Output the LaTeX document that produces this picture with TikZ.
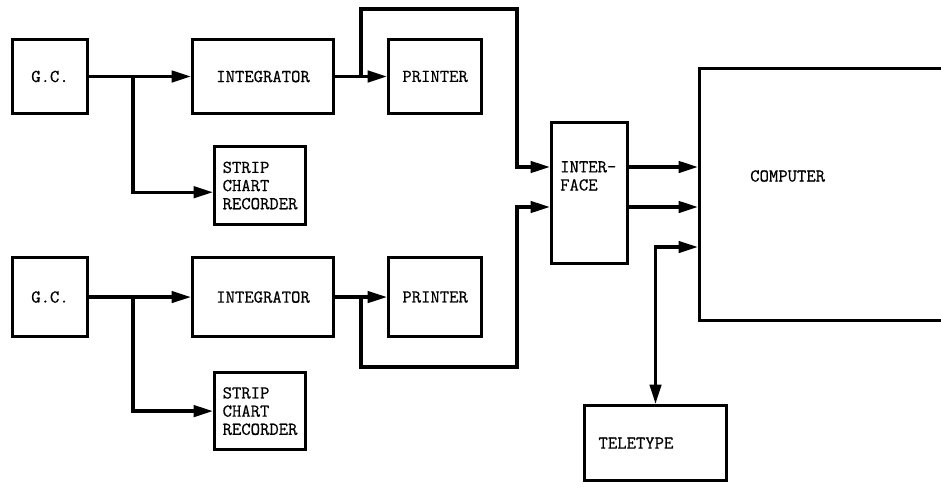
\documentclass[tikz,border=0pt]{standalone}
\usepackage{fontspec}
\usetikzlibrary{positioning,arrows.meta,calc}
\newfontfamily\typefont{Latin Modern Mono}[FakeBold=0.6]
\newcommand{\boxfont}{\fontsize{15.5}{15.5}\selectfont\typefont}

\begin{document}
\begin{tikzpicture}[x=0.3mm,y=-0.3mm,
  box/.style={draw,line width=2.6pt,inner sep=0pt,font=\boxfont,align=center},
  rowbox/.style={box,minimum height=22.2mm},
  lowbox/.style={box,minimum height=23.7mm},
  txt/.style={inner sep=0pt,font=\boxfont,align=left},
  wire/.style={line width=2.8pt},
  arr/.style={wire,-{Triangle[length=5.8mm,width=3.4mm]}},
  both/.style={wire,{Triangle[length=5.8mm,width=3.4mm]}-{Triangle[length=5.8mm,width=3.4mm]}}]
  \useasboundingbox (0,0) rectangle (941,487);
  \clip (0,0) rectangle (941,487);
  % first chromatograph
  \node[rowbox,minimum width=22.5mm] (gc1) at (50,76.5) {G.C.};
  \node[rowbox,minimum width=42.3mm,right=30.6mm of gc1] (int1) {INTEGRATOR};
  \node[rowbox,minimum width=27.9mm,right=15.6mm of int1] (prn1) {PRINTER};
  \node[box,align=left,minimum width=27.3mm,minimum height=23.4mm,anchor=north west] (scr1) at ([shift={(6.6mm,-9mm)}]int1.south west) {STRIP\\CHART\\RECORDER};
  % second chromatograph
  \node[lowbox,minimum width=22.5mm,below=42.3mm of gc1] (gc2) {G.C.};
  \node[lowbox,minimum width=42.3mm,right=30.6mm of gc2] (int2) {INTEGRATOR};
  \node[lowbox,minimum width=27.9mm,right=15.6mm of int2] (prn2) {PRINTER};
  \node[box,align=left,minimum width=27.3mm,minimum height=23.1mm,anchor=north west] (scr2) at ([shift={(6.6mm,-9.9mm)}]int2.south west) {STRIP\\CHART\\RECORDER};
  % interface, computer, teletype
  \node[box,minimum width=22.8mm,minimum height=42.3mm] (iface) at (589.5,193) {};
  \node[txt,anchor=west] (ifacetxt) at ([shift={(3mm,-16.5mm)}]iface.north west) {INTER-\\FACE};
  \node[box,minimum width=90mm,minimum height=75.6mm,anchor=north west] (comp) at (698,67) {};
  \node[txt,anchor=west] (comptxt) at ([shift={(15.6mm,-32.7mm)}]comp.north west) {COMPUTER};
  \node[box,align=left,inner xsep=4.2mm,text width=34.2mm,minimum height=22.5mm,anchor=north west] (tty) at (583,404) {TELETYPE};
  % junctions
  \coordinate (j1) at ($(gc1.east)!0.43!(int1.west)$);
  \coordinate (j2) at ($(int1.east)!0.5!(prn1.west)$);
  \coordinate (j3) at ($(gc2.east)!0.43!(int2.west)$);
  \coordinate (j4) at ($(int2.east)!0.5!(prn2.west)$);
  \coordinate (in1) at ([yshift=7.8mm]iface.west);
  \coordinate (in2) at ([yshift=-4.2mm]iface.west);
  \coordinate (up1) at ($(iface.west |- prn1.north)+(-9.9mm,8.7mm)$);
  \coordinate (dn2) at ($(iface.west |- prn2.south)+(-9.9mm,-8.7mm)$);
  \coordinate (tt) at ([yshift=-15.75mm]comp.west);
  % arrows
  \draw[arr] (gc1) -- (int1);
  \draw[arr] (j1) |- ([yshift=-2mm]scr1.west);
  \draw[arr] (int1) -- (prn1);
  \draw[arr] (j2) |- (up1) |- (in1);
  \draw[arr] (gc2) -- (int2);
  \draw[arr] (j3) |- (scr2.west);
  \draw[arr] (int2) -- (prn2);
  \draw[arr] (j4) |- (dn2) |- (in2);
  \draw[arr] (in1 -| iface.east) -- (in1 -| comp.west);
  \draw[arr] (in2 -| iface.east) -- (in2 -| comp.west);
  \draw[both] (tty.north) |- (tt);
\end{tikzpicture}
\end{document}
